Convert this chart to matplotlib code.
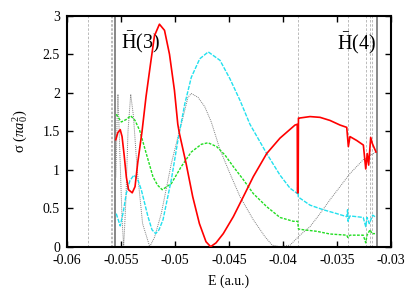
import numpy as np
import matplotlib
matplotlib.use('Agg')
import matplotlib.pyplot as plt
from matplotlib.ticker import FuncFormatter

plt.rcParams['font.family'] = ['Liberation Serif', 'DejaVu Serif']
plt.rcParams['mathtext.fontset'] = 'custom'
plt.rcParams['mathtext.rm'] = 'Liberation Serif'
plt.rcParams['mathtext.it'] = 'Liberation Serif:italic'
plt.rcParams['axes.unicode_minus'] = False

# red solid curve
red_E = [-0.05548, -0.05530, -0.05507, -0.05490, -0.05470, -0.05450, -0.05430, -0.05396,
         -0.05370, -0.05345, -0.05305, -0.05268, -0.05227, -0.05190, -0.05144, -0.05097,
         -0.05051, -0.05005, -0.04974, -0.04959, -0.04897, -0.04836, -0.04774, -0.04713,
         -0.04670, -0.04620, -0.04553, -0.04460, -0.04367, -0.04275, -0.04151, -0.04028,
         -0.03889, -0.03868, -0.03866, -0.03860, -0.03857, -0.03852, -0.03750, -0.03657,
         -0.03565, -0.03472, -0.03410, -0.03395, -0.03380, -0.03318, -0.03256, -0.03234,
         -0.03220, -0.03207, -0.03188, -0.03173, -0.03139]
red_s = [1.39, 1.48, 1.52, 1.43, 1.18, 0.90, 0.74, 0.70,
         0.78, 1.09, 1.50, 1.95, 2.37, 2.74, 2.89, 2.81,
         2.50, 2.03, 1.59, 1.47, 1.08, 0.65, 0.30, 0.065,
         0.0, 0.05, 0.17, 0.39, 0.65, 0.91, 1.21, 1.41,
         1.58, 1.59, 0.70, 0.70, 1.67, 1.67, 1.69, 1.68,
         1.64, 1.58, 1.55, 1.30, 1.43, 1.38, 1.32, 1.01,
         1.21, 1.06, 1.42, 1.34, 1.23]

# cyan dashed curve
cyan_E = [-0.05544, -0.05507, -0.05479, -0.05451, -0.05417, -0.05380, -0.05347, -0.05312,
          -0.05250, -0.05213, -0.05179, -0.05148, -0.05111, -0.05034, -0.04972, -0.04910,
          -0.04849, -0.04771, -0.04692, -0.04583, -0.04491, -0.04398, -0.04306, -0.04151,
          -0.04028, -0.03935, -0.03866, -0.03862, -0.03859, -0.03843, -0.03750, -0.03627,
          -0.03503, -0.03410, -0.03402, -0.03398, -0.03380, -0.03257, -0.03234, -0.03222,
          -0.03201, -0.03170, -0.03148]
cyan_s = [0.43, 0.27, 0.45, 0.69, 0.86, 0.93, 0.88, 0.74,
          0.39, 0.22, 0.17, 0.22, 0.35, 0.87, 1.39, 1.85,
          2.20, 2.44, 2.53, 2.42, 2.18, 1.90, 1.59, 1.21,
          0.93, 0.76, 0.69, 1.00, 0.65, 0.63, 0.54, 0.48,
          0.43, 0.39, 0.48, 0.33, 0.40, 0.38, 0.26, 0.38,
          0.30, 0.41, 0.39]

# green dashed curve
green_E = [-0.05544, -0.05497, -0.05454, -0.05410, -0.05370, -0.05327, -0.05266, -0.05204,
           -0.05162, -0.05118, -0.05034, -0.04942, -0.04849, -0.04756, -0.04694, -0.04614,
           -0.04537, -0.04460, -0.04367, -0.04275, -0.04151, -0.04028, -0.03905, -0.03864,
           -0.03857, -0.03812, -0.03688, -0.03565, -0.03410, -0.03400, -0.03380, -0.03257,
           -0.03234, -0.03222, -0.03194, -0.03176, -0.03148]
green_s = [1.72, 1.62, 1.65, 1.70, 1.64, 1.51, 1.21, 0.91,
           0.80, 0.74, 0.82, 1.04, 1.23, 1.33, 1.35, 1.30,
           1.19, 1.04, 0.87, 0.69, 0.52, 0.38, 0.33, 0.33,
           0.23, 0.22, 0.20, 0.165, 0.15, 0.12, 0.15, 0.15,
           0.05, 0.15, 0.22, 0.17, 0.17]

# grey dotted curve
grey_E = [-0.05548, -0.05535, -0.05528, -0.05510, -0.05490, -0.05475, -0.05455, -0.05435,
          -0.05410, -0.05385, -0.05350, -0.05300, -0.05234, -0.05190, -0.05127, -0.05034,
          -0.04972, -0.04942, -0.04880, -0.04849, -0.04787, -0.04725, -0.04664, -0.04583,
          -0.04491, -0.04398, -0.04275, -0.04167, -0.04100, -0.04030, -0.03935, -0.03843,
          -0.03750, -0.03657, -0.03565, -0.03472, -0.03380, -0.03257, -0.03139]
grey_s = [0.90, 1.70, 1.98, 1.20, 0.35, 0.0, 0.60, 1.50,
          1.98, 1.70, 1.00, 0.30, 0.0, 0.12, 0.43, 1.08,
          1.43, 1.59, 1.94, 1.99, 1.94, 1.82, 1.62, 1.26,
          0.95, 0.65, 0.35, 0.13, 0.02, 0.0, 0.02, 0.15,
          0.26, 0.43, 0.61, 0.78, 0.95, 1.13, 1.23]

# thresholds
dashed_lines = [-0.05803, -0.05596, -0.05584, -0.05565, -0.05560,
                -0.03858, -0.03401, -0.03232, -0.03194, -0.03178]
solid_lines = [-0.05553, -0.03132]

fig = plt.figure(figsize=(4.15, 2.91), dpi=100)
ax = fig.add_axes([0.1614, 0.1522, 0.7808, 0.7938])

for e in dashed_lines:
    ax.axvline(e, color='#b0b0b0', lw=0.6, ls=(0, (3, 2)), zorder=1)
for e in solid_lines:
    ax.axvline(e, color='#888888', lw=1.4, zorder=1)

ax.plot(grey_E, grey_s, color='#808080', lw=0.7, ls=(0, (1, 1)), zorder=2)
ax.plot(green_E, green_s, color='#22dd22', lw=1.0, ls=(0, (2, 1)), zorder=3)
ax.plot(cyan_E, cyan_s, color='#22e0ee', lw=1.0, ls=(0, (3, 1)), zorder=4)
ax.plot(red_E, red_s, color='#ff0000', lw=1.2, zorder=5)

ax.text(-0.0550, 2.57, r'$\bar{\mathrm{H}}$(3)', fontsize=14.5, ha='left', va='baseline')
ax.text(-0.03503, 2.565, r'$\bar{\mathrm{H}}$(4)', fontsize=14.5, ha='left', va='baseline')

ax.set_xlim(-0.06, -0.03)
ax.set_ylim(0, 3)
ax.set_xticks(np.arange(-0.06, -0.0299, 0.005))
ax.set_yticks(np.arange(0, 3.01, 0.5))
ax.xaxis.set_major_formatter(FuncFormatter(lambda v, p: '%g' % round(v, 4)))
ax.yaxis.set_major_formatter(FuncFormatter(lambda v, p: '%g' % v))
ax.tick_params(direction='in', length=4, width=1, top=True, right=True,
               labelsize=10, pad=5)
for s in ax.spines.values():
    s.set_linewidth(1.5)

ax.set_xlabel('E (a.u.)', fontsize=10, labelpad=6)
ax.set_ylabel(r'σ ($\pi a_0^2$)', fontsize=10.5, labelpad=9)

fig.savefig('out.png', dpi=100)
